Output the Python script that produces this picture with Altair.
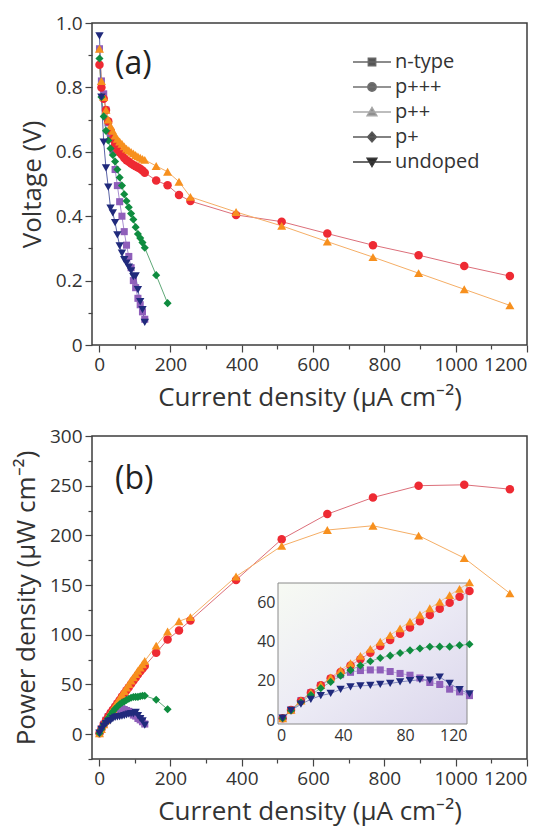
import altair as alt
import pandas as pd

# ---------------- data ----------------
SERIES = ["n-type", "p+++", "p++", "p+", "undoped"]
COLORS = ["#8f5fba", "#ee2a33", "#f7901e", "#0f8c3f", "#202a7c"]
LINE_COLORS = ["#a88fd0", "#dc6f7a", "#f5ae66", "#5ea877", "#5a63a6"]
SHAPES = ["square", "circle", "triangle-up", "diamond", "triangle-down"]
SIZES_MAIN = [50, 72, 82, 65, 70]
SIZES_INSET = [34, 48, 55, 44, 50]

LEG_PATHS = [
    "M-3.8,0H3.8M-0.75,-0.75H0.75V0.75H-0.75Z",
    "M-3.8,0H3.8M-0.85,0A0.85,0.85,0,1,1,0.85,0A0.85,0.85,0,1,1,-0.85,0Z",
    "M-3.8,0H3.8M0,-0.95L1,0.75H-1Z",
    "M-3.8,0H3.8M0,-1L0.9,0L0,1L-0.9,0Z",
    "M-3.8,0H3.8M0,0.95L1,-0.75H-1Z",
]
LEG_FILLS = ["#555555", "#666666", "#8f8f8f", "#4a4a4a", "#2a2a2a"]
LEG_STROKES = ["#666666", "#707070", "#a8a8a8", "#5a5a5a", "#3a3a3a"]

J_DENSE = [1, 6.4, 12.8, 19.2, 25.6, 32, 38.4, 44.8, 51.2, 57.6, 64, 70.4,
           76.8, 83.2, 89.6, 96, 102.4, 108.8, 115.2, 121.6, 128]
J_HIGH = [160, 192, 224, 256, 384, 512, 640, 768, 896, 1024, 1152]
J_PPLUS_TAIL = [160, 192]

V_NTYPE = [0.92, 0.82, 0.78, 0.73, 0.69, 0.655, 0.605, 0.545, 0.495, 0.445, 0.40,
           0.352, 0.31, 0.275, 0.24, 0.20, 0.178, 0.145, 0.125, 0.103, 0.08]
V_P3 = [0.87, 0.80, 0.765, 0.73, 0.695, 0.665, 0.64, 0.622, 0.607, 0.598, 0.59,
        0.581, 0.574, 0.569, 0.564, 0.559, 0.555, 0.551, 0.547, 0.542, 0.535,
        0.511, 0.496, 0.466, 0.447, 0.404, 0.383, 0.346, 0.31, 0.279, 0.245, 0.214]
V_P2 = [0.92, 0.82, 0.77, 0.73, 0.70, 0.68, 0.665, 0.65, 0.64, 0.632, 0.625,
        0.617, 0.61, 0.605, 0.60, 0.595, 0.59, 0.586, 0.582, 0.578, 0.575,
        0.556, 0.538, 0.507, 0.46, 0.413, 0.37, 0.321, 0.273, 0.223, 0.173, 0.123]
V_P1 = [0.89, 0.77, 0.71, 0.665, 0.635, 0.61, 0.59, 0.57, 0.545, 0.52, 0.495,
        0.468, 0.447, 0.428, 0.408, 0.39, 0.366, 0.345, 0.332, 0.318, 0.302,
        0.217, 0.13]
V_UND = [0.96, 0.77, 0.63, 0.55, 0.49, 0.425, 0.41, 0.38, 0.342, 0.308, 0.285,
         0.265, 0.254, 0.242, 0.23, 0.212, 0.215, 0.172, 0.135, 0.11, 0.07]

P_NTYPE = [0.9, 5.2, 10.0, 14.0, 17.7, 21.0, 23.2, 24.4, 25.3, 25.6, 25.6,
           24.8, 23.8, 22.9, 21.5, 19.2, 18.2, 15.8, 14.4, 12.5, 10.2]
P_P3 = [0.9, 5.1, 9.8, 14.0, 17.8, 21.3, 24.6, 27.9, 31.1, 34.4, 37.8,
        40.9, 44.1, 47.3, 50.5, 53.7, 56.8, 59.9, 63.0, 65.9, 68.5,
        81.8, 95.2, 104.4, 114.4, 155.1, 196.1, 221.4, 238.1, 250.0, 250.9, 246.5]
P_P2 = [0.9, 5.2, 9.9, 14.0, 17.9, 21.8, 25.5, 29.1, 32.8, 36.4, 40.0,
        43.4, 46.8, 50.3, 53.8, 57.1, 60.4, 63.8, 67.0, 70.3, 73.6,
        89.0, 103.3, 113.6, 117.8, 158.6, 189.4, 205.4, 209.7, 199.8, 177.2, 141.7]
P_P1 = [0.9, 4.9, 9.1, 12.8, 16.3, 19.5, 22.7, 25.5, 27.9, 30.0, 31.7,
        32.9, 34.3, 35.6, 36.6, 37.4, 37.5, 37.5, 38.2, 38.7, 38.7,
        34.7, 25.0]
P_UND = [1.0, 4.9, 8.1, 10.6, 12.5, 13.6, 15.7, 17.0, 17.5, 17.7, 18.2,
         18.7, 19.5, 20.1, 20.6, 20.4, 22.0, 18.7, 15.6, 13.4, 9.0]

J_BY_SERIES = [J_DENSE, J_DENSE + J_HIGH, J_DENSE + J_HIGH, J_DENSE + J_PPLUS_TAIL, J_DENSE]
V_BY_SERIES = [V_NTYPE, V_P3, V_P2, V_P1, V_UND]
P_BY_SERIES = [P_NTYPE, P_P3, P_P2, P_P1, P_UND]

X_TICKS = list(range(0, 1201, 100))
YA_TICKS = [round(i * 0.1, 1) for i in range(11)]
YB_TICKS = list(range(-25, 301, 25))
INSET_X = [-2, 120]
INSET_Y = [-2, 70]
INSET_X_TICKS = [0, 40, 80, 120]
INSET_Y_TICKS = [0, 20, 40, 60]

rows = []
for name, js, vs, ps in zip(SERIES, J_BY_SERIES, V_BY_SERIES, P_BY_SERIES):
    for i, (j, v, p) in enumerate(zip(js, vs, ps)):
        rows.append({"series": name, "J": j, "V": v, "P": p, "idx": i})
df = pd.DataFrame(rows)

# ---------------- styling ----------------
FONT = "Open Sans"
W, HA, HB = 435, 322, 323
TXT = "#333333"

common_axis = dict(labelFont=FONT, labelFontSize=19, labelColor=TXT,
                   titleFont=FONT, titleFontSize=26, titleFontWeight="normal",
                   titleColor=TXT, tickColor="#444444", tickWidth=1.2,
                   grid=False, domain=False, labelPadding=3)

def x_axis(title):
    return alt.Axis(title=title, values=X_TICKS, format="d", orient="bottom",
                    labelExpr="datum.value % 200 === 0 ? datum.label : ''",
                    tickSize={"condition": {"test": "datum.value % 200 === 0", "value": 7}, "value": 4},
                    titlePadding=10, **common_axis)

y_axis_a = alt.Axis(title="Voltage (V)", values=YA_TICKS, orient="left",
                    labelExpr="round(datum.value*10) % 2 === 0 ? (datum.value === 0 ? '0' : format(datum.value, '.1f')) : ''",
                    tickSize={"condition": {"test": "round(datum.value*10) % 2 === 0", "value": 7}, "value": 4},
                    titlePadding=10, **common_axis)
y_axis_b = alt.Axis(title="Power density (μW cm⁻²)", values=YB_TICKS, orient="left",
                    labelExpr="datum.value % 50 === 0 && datum.value >= 0 ? datum.label : ''",
                    tickSize={"condition": {"test": "datum.value % 50 === 0", "value": 7}, "value": 4},
                    titlePadding=10, **common_axis)

stroke_enc = alt.Stroke("series:N", scale=alt.Scale(domain=SERIES, range=LINE_COLORS), legend=None)
fill_enc = alt.Fill("series:N", scale=alt.Scale(domain=SERIES, range=COLORS), legend=None)
shape_enc = alt.Shape("series:N", scale=alt.Scale(domain=SERIES, range=SHAPES), legend=None)
size_main = alt.Size("series:N", scale=alt.Scale(type="ordinal", domain=SERIES, range=SIZES_MAIN), legend=None)
size_inset = alt.Size("series:N", scale=alt.Scale(type="ordinal", domain=SERIES, range=SIZES_INSET), legend=None)

XMAIN = alt.Scale(domain=[-20, 1200], nice=False, zero=False)

# ---------------- panel (a) ----------------
xa = alt.X("J:Q", scale=XMAIN, axis=x_axis("Current density (μA cm⁻²)"))
ya = alt.Y("V:Q", scale=alt.Scale(domain=[0, 1], nice=False), axis=y_axis_a)
base = alt.Chart(df)
lines_a = base.mark_line(strokeWidth=1).encode(x=xa, y=ya, stroke=stroke_enc, order="idx:Q")
points_a = base.mark_point(filled=True, opacity=1, strokeWidth=0).encode(
    x=xa, y=ya, fill=fill_enc, shape=shape_enc, size=size_main)

leg = alt.Legend(title=None, orient="none", legendX=270, legendY=29, padding=0,
                 symbolSize=100, symbolStrokeWidth=1.3, symbolOpacity=1,
                 labelFont=FONT, labelFontSize=20, labelColor=TXT,
                 labelOffset=13, rowPadding=5)
legend_layer = alt.Chart(pd.DataFrame({"series": SERIES})).mark_point(
    filled=True, opacity=0).encode(
    shape=alt.Shape("series:N", scale=alt.Scale(domain=SERIES, range=LEG_PATHS), legend=leg),
    fill=alt.Fill("series:N", scale=alt.Scale(domain=SERIES, range=LEG_FILLS), legend=leg),
    stroke=alt.Stroke("series:N", scale=alt.Scale(domain=SERIES, range=LEG_STROKES), legend=leg),
)
label_a = alt.Chart(pd.DataFrame({"t": ["(a)"]})).mark_text(
    font=FONT, fontSize=32, color="#222222", align="left", baseline="middle").encode(
    x=alt.value(23), y=alt.value(41), text="t:N")

panel_a = alt.layer(lines_a, points_a, legend_layer, label_a).resolve_scale(
    shape="independent", fill="independent", stroke="independent"
).properties(width=W, height=HA)

# ---------------- panel (b) ----------------
xb = alt.X("J:Q", scale=XMAIN, axis=x_axis("Current density (μA cm⁻²)"))
yb = alt.Y("P:Q", scale=alt.Scale(domain=[-25, 300], nice=False, zero=False), axis=y_axis_b)
lines_b = base.mark_line(strokeWidth=1).encode(x=xb, y=yb, stroke=stroke_enc, order="idx:Q")
points_b = base.mark_point(filled=True, opacity=1, strokeWidth=0).encode(
    x=xb, y=yb, fill=fill_enc, shape=shape_enc, size=size_main)
main_b = alt.layer(lines_b, points_b)

inset_axis_common = dict(labelFont=FONT, labelFontSize=16, labelColor=TXT,
                         grid=False, domain=False, ticks=False, title=None, labelPadding=3)
ixs = alt.Scale(domain=INSET_X, range=[186, 375], nice=False, zero=False)
iys = alt.Scale(domain=INSET_Y, range=[288, 147], nice=False, zero=False)
ix_axis = alt.Axis(orient="bottom", offset=-35, values=INSET_X_TICKS, **inset_axis_common)
iy_axis = alt.Axis(orient="left", offset=-186, values=INSET_Y_TICKS, **inset_axis_common)

grad = alt.LinearGradient(gradient="linear", x1=0, y1=0, x2=1, y2=1, stops=[
    alt.GradientStop(color="#f7faf3", offset=0),
    alt.GradientStop(color="#ecebf5", offset=0.5),
    alt.GradientStop(color="#dbd6ec", offset=1)])
bg_df = pd.DataFrame({"x0": [INSET_X[0]], "x1": [INSET_X[1]], "y0": [INSET_Y[0]], "y1": [INSET_Y[1]]})
inset_bg = alt.Chart(bg_df).mark_rect(fill=grad, stroke="#8a8a8a", strokeWidth=1).encode(
    x=alt.X("x0:Q", scale=ixs, axis=ix_axis), x2="x1:Q",
    y=alt.Y("y0:Q", scale=iys, axis=iy_axis), y2="y1:Q")
inset_base = base.transform_filter("datum.J <= 122")
xi = alt.X("J:Q", scale=ixs, axis=ix_axis)
yi = alt.Y("P:Q", scale=iys, axis=iy_axis)
inset_lines = inset_base.mark_line(strokeWidth=1, opacity=0.7).encode(
    x=xi, y=yi, stroke=stroke_enc, order="idx:Q")
inset_points = inset_base.mark_point(filled=True, opacity=1, strokeWidth=0).encode(
    x=xi, y=yi, fill=fill_enc, shape=shape_enc, size=size_inset)
inset = alt.layer(inset_bg, inset_lines, inset_points)

label_b = alt.Chart(pd.DataFrame({"t": ["(b)"]})).mark_text(
    font=FONT, fontSize=32, color="#222222", align="left", baseline="middle").encode(
    x=alt.value(23), y=alt.value(43), text="t:N")

panel_b = alt.layer(main_b, inset, label_b).resolve_scale(
    x="independent", y="independent").properties(width=W, height=HB)

chart = alt.vconcat(panel_a, panel_b, spacing=15).resolve_scale(
    x="independent", y="independent", shape="independent", fill="independent",
    stroke="independent", size="independent"
).properties(padding={"left": 4, "right": 0, "top": 5, "bottom": 5}
).configure_view(stroke="#3c3c3c", strokeWidth=1.5)

chart.save("out.html", embed_options={"renderer": "svg", "actions": False})
